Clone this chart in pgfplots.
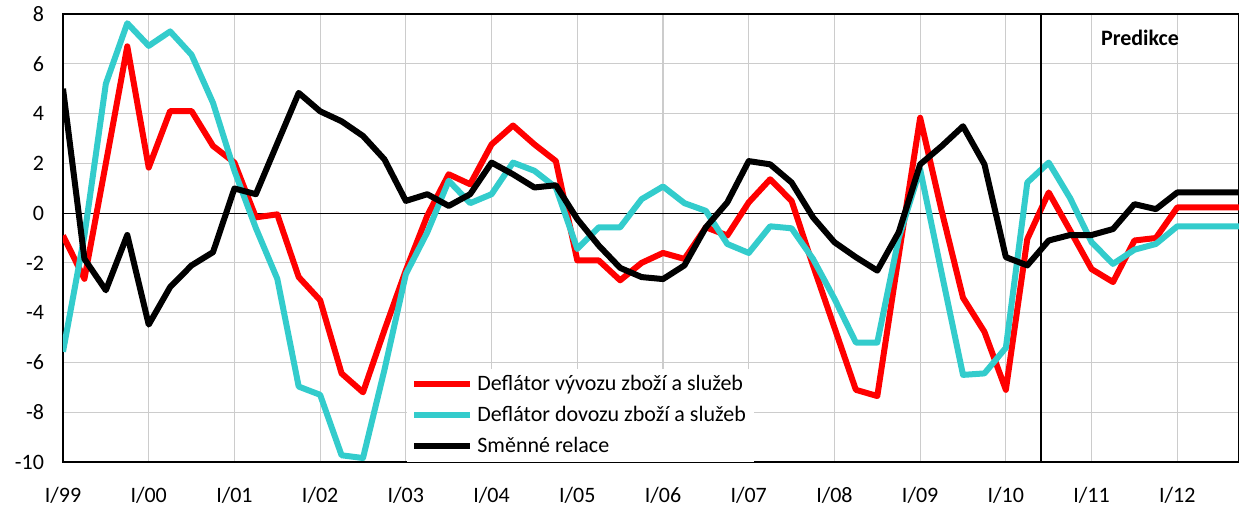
\documentclass[border=0pt]{standalone}
\usepackage{pgfplots}
\pgfplotsset{compat=1.18}
\usepackage{pgfplotstable}
\usepackage{fontspec}
\setmainfont{Carlito}
\definecolor{tyrk}{HTML}{33CCCC}

\pgfplotstableread{
i ex im tt
0 -0.9 -5.57 5.0
1 -2.64 -0.9 -1.84
2 2.0 5.2 -3.1
3 6.7 7.63 -0.88
4 1.83 6.72 -4.48
5 4.1 7.3 -2.97
6 4.1 6.36 -2.1
7 2.7 4.43 -1.57
8 2.03 1.7 0.99
9 -0.17 -0.6 0.76
10 -0.05 -2.64 2.8
11 -2.57 -6.97 4.83
12 -3.5 -7.3 4.09
13 -6.44 -9.73 3.69
14 -7.2 -9.84 3.1
15 -4.7 -6.3 2.16
16 -2.3 -2.45 0.49
17 -0.1 -0.77 0.76
18 1.56 1.3 0.29
19 1.16 0.4 0.76
20 2.76 0.76 2.03
21 3.52 2.03 1.56
22 2.76 1.7 1.03
23 2.09 1.03 1.12
24 -1.9 -1.44 -0.24
25 -1.9 -0.57 -1.3
26 -2.7 -0.57 -2.2
27 -2.0 0.56 -2.57
28 -1.6 1.07 -2.65
29 -1.84 0.4 -2.1
30 -0.57 0.09 -0.57
31 -0.9 -1.24 0.43
32 0.43 -1.6 2.09
33 1.36 -0.53 1.96
34 0.49 -0.61 1.23
35 -2.1 -1.84 -0.17
36 -4.6 -3.44 -1.17
37 -7.1 -5.2 -1.77
38 -7.35 -5.2 -2.31
39 -1.7 -1.0 -0.77
40 3.83 1.76 1.96
41 0.1 -2.4 2.69
42 -3.4 -6.5 3.49
43 -4.77 -6.44 1.96
44 -7.1 -5.41 -1.77
45 -1.04 1.23 -2.1
46 0.83 2.03 -1.1
47 -0.7 0.6 -0.88
48 -2.25 -1.17 -0.88
49 -2.77 -2.04 -0.64
50 -1.1 -1.47 0.36
51 -1.0 -1.24 0.16
52 0.23 -0.53 0.83
53 0.23 -0.53 0.83
54 0.23 -0.53 0.83
55 0.23 -0.53 0.83
}\data

\begin{document}
\begin{tikzpicture}
\begin{axis}[
  scale only axis, width=588pt, height=224pt,
  xmin=0, xmax=54.88, ymin=-10, ymax=8,
  xtick={0,4,...,52},
  xticklabels={I/99,I/00,I/01,I/02,I/03,I/04,I/05,I/06,I/07,I/08,I/09,I/10,I/11,I/12},
  ytick={-10,-8,...,8},
  grid=major, grid style={gray!40, line width=0.6pt},
  extra y ticks={0}, extra y tick labels={},
  extra y tick style={grid style={black, line width=0.6pt}},
  major tick length=0pt,
  axis line style={black, line width=0.8pt},
  tick label style={font=\fontsize{11}{13}\selectfont},
  /pgf/number format/assume math mode=true,
  yticklabel style={xshift=-6pt},
  xticklabel style={yshift=-9pt},
  legend cell align=left,
  legend style={at={(rel axis cs:0.2925,0)}, anchor=south west, fill=white, draw=none,
    font=\fontsize{11}{13}\selectfont, inner xsep=2pt, inner ysep=1pt, row sep=2.5pt},
  legend image code/.code={\draw[#1] (0pt,0pt) -- (28pt,0pt);},
  every axis plot/.append style={line width=3pt, line join=round},
]
\addplot[red, no markers] table[x=i, y=ex] {\data};
\addlegendentry{Deflátor vývozu zboží a služeb}
\addplot[tyrk, no markers] table[x=i, y=im] {\data};
\addlegendentry{Deflátor dovozu zboží a služeb}
\addplot[black, no markers] table[x=i, y=tt] {\data};
\addlegendentry{Směnné relace}
\addplot[black, line width=1.2pt, forget plot] coordinates {(45.63,-10.1) (45.63,8)};
\node[font=\bfseries\fontsize{11}{13}\selectfont] at (axis cs:50.26,7.04) {Predikce};
\coordinate (ll) at (rel axis cs:0,0);
\coordinate (ur) at (rel axis cs:1,1);
\end{axis}
\pgfresetboundingbox
\path ([shift={(-31.5pt,-26pt)}]ll) rectangle ([shift={(0pt,7pt)}]ur);
\end{tikzpicture}
\end{document}
